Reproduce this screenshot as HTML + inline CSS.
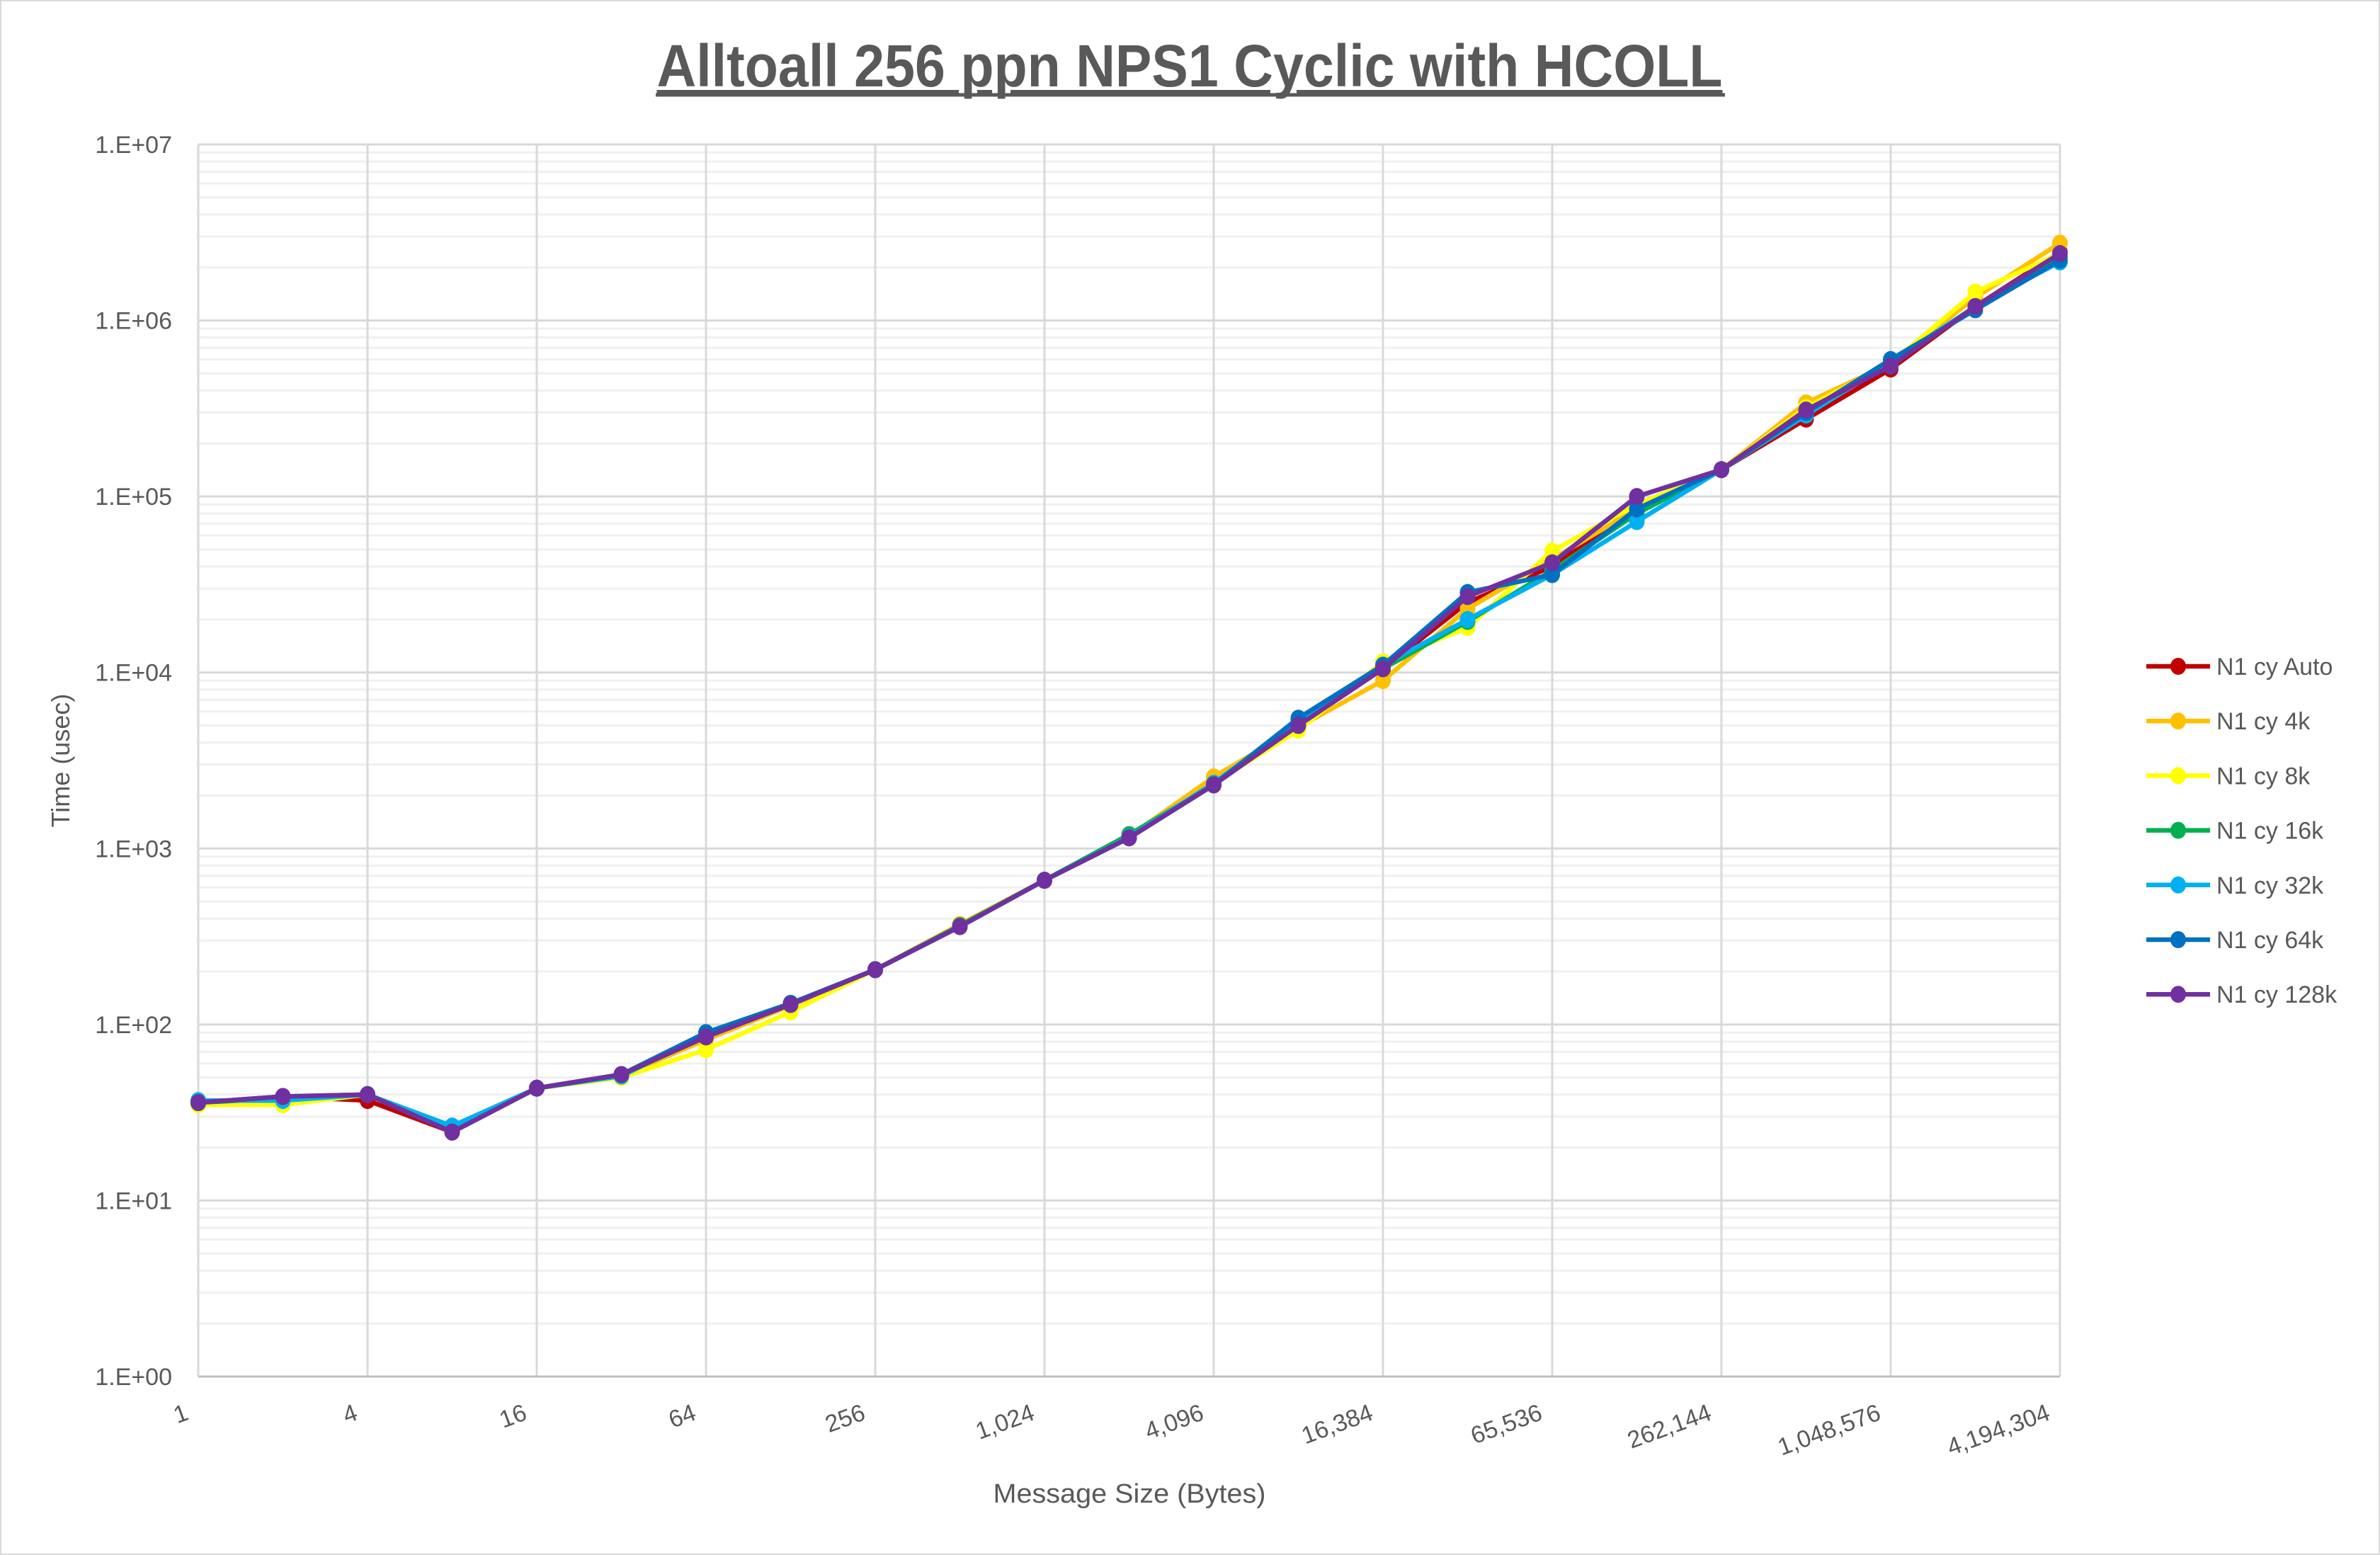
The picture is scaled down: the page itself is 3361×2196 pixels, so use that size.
<!DOCTYPE html>
<html><head><meta charset="utf-8"><style>
html,body{margin:0;padding:0;background:#fff;}
svg{display:block;font-family:"Liberation Sans",sans-serif;}
</style></head><body>
<svg id="chart" width="3361" height="2196" viewBox="0 0 3361 2196">
<rect x="1" y="1" width="3359" height="2194" fill="#fff" stroke="#d9d9d9" stroke-width="2"/>
<text x="1680" y="122" text-anchor="middle" font-size="84" font-weight="bold" fill="#595959" text-decoration="underline" textLength="1505" lengthAdjust="spacingAndGlyphs">Alltoall 256 ppn NPS1 Cyclic with HCOLL</text>
<line x1="926" y1="134" x2="2436" y2="134" stroke="#595959" stroke-width="5"/>
<g id="grid"></g>
<g id="axes"></g>
<g id="series"></g>
<text transform="translate(98,1074) rotate(-90)" text-anchor="middle" font-size="36" fill="#595959">Time (usec)</text>
<text x="1595" y="2122" text-anchor="middle" font-size="38" fill="#595959" textLength="385" lengthAdjust="spacingAndGlyphs">Message Size (Bytes)</text>
<g id="legend"></g>
</svg>
<script>
const categories=[1,2,4,8,16,32,64,128,256,512,1024,2048,4096,8192,16384,32768,65536,131072,262144,524288,1048576,2097152,4194304];
const xTickLabels=["1","4","16","64","256","1,024","4,096","16,384","65,536","262,144","1,048,576","4,194,304"];
const yTickLabels=["1.E+00","1.E+01","1.E+02","1.E+03","1.E+04","1.E+05","1.E+06","1.E+07"];
const seriesNames=["N1 cy Auto","N1 cy 4k","N1 cy 8k","N1 cy 16k","N1 cy 32k","N1 cy 64k","N1 cy 128k"];
const seriesColors=["#C00000","#FFC000","#FFFF00","#00B050","#00B0F0","#0070C0","#7030A0"];
const sAuto=[36,39,37,24.5,43.5,52,85,130,205,365,660,1150,2300,5000,10500,25000,40000,88000,142000,275000,530000,1200000,2450000];
const s4k=[36,38,40,24.5,43.5,51,82,128,205,370,660,1170,2550,4900,9000,23000,44000,85000,142000,340000,570000,1350000,2750000];
const s8k=[35,35,40,25,43.5,50,72,118,205,365,660,1160,2350,4700,11500,18000,49000,90000,142000,320000,570000,1450000,2400000];
const s16k=[36,38,40,25,43.5,51,88,130,205,365,660,1200,2300,5300,10500,19500,38000,80000,142000,300000,570000,1200000,2300000];
const s32k=[37,37,40,26.5,43.5,51,88,130,205,360,660,1160,2350,5300,11000,20000,36000,72000,142000,290000,580000,1200000,2150000];
const s64k=[36,39,40,24.5,43.5,52,90,132,205,360,660,1150,2300,5500,11000,28500,36000,85000,142000,300000,600000,1150000,2200000];
const s128k=[36,39,40,24.5,43.5,52,85,130,205,360,660,1150,2300,5000,10500,27000,42000,100000,142000,310000,550000,1200000,2400000];
const allSeries=[sAuto,s4k,s8k,s16k,s32k,s64k,s128k];
const NS="http://www.w3.org/2000/svg";
const L=280,R=2909,T=204,B=1944;
function xPos(v){return L+(Math.log2(v)-0)/(22)*(R-L);}
function yPos(v){return B-(Math.log10(v)-0)/7*(B-T);}
function mk(tag,attrs,parent){const e=document.createElementNS(NS,tag);for(const k in attrs)e.setAttribute(k,attrs[k]);parent.appendChild(e);return e;}
const grid=document.getElementById('grid'),axes=document.getElementById('axes'),ser=document.getElementById('series'),leg=document.getElementById('legend');
for(let d=0;d<7;d++){for(let m=2;m<=9;m++){const y=yPos(m*Math.pow(10,d));
const ln=mk('line',{x1:L,x2:R,y1:y,y2:y,stroke:'#f0f0f0','stroke-width':3},grid);

}}
yTickLabels.forEach((t,i)=>{const y=yPos(Math.pow(10,i));
const ln=mk('line',{x1:L,x2:R,y1:y,y2:y,stroke:'#d9d9d9','stroke-width':3},grid);


const tx=mk('text',{x:243,y:y+12,'text-anchor':'end','font-size':34,fill:'#595959'},axes);tx.textContent=t;

});
xTickLabels.forEach((t,i)=>{const v=Math.pow(4,i);const x=xPos(v);
const ln=mk('line',{x1:x,x2:x,y1:T,y2:B,stroke:'#d9d9d9','stroke-width':3},grid);


const tx=mk('text',{transform:`translate(${x-12},${B+60}) rotate(-20)`,'text-anchor':'end','font-size':34,fill:'#595959'},axes);tx.textContent=t;

});
const ax=mk('line',{x1:L,x2:R,y1:B,y2:B,stroke:'#bfbfbf','stroke-width':3},axes);


allSeries.forEach((s,si)=>{const g=mk('g',{},ser);


const pts=s.map((v,i)=>xPos(categories[i])+','+yPos(v)).join(' ');
const pl=mk('polyline',{points:pts,fill:'none',stroke:seriesColors[si],'stroke-width':6.5,'stroke-linejoin':'round'},g);


s.forEach((v,i)=>{const c=mk('ellipse',{cx:xPos(categories[i]),cy:yPos(v),rx:11,ry:12,fill:seriesColors[si]},g);

});});
seriesNames.forEach((n,i)=>{const y=941+i*77.2;const g=mk('g',{},leg);


mk('line',{x1:3031,x2:3121,y1:y,y2:y,stroke:seriesColors[i],'stroke-width':6.5},g);
mk('ellipse',{cx:3076,cy:y,rx:11,ry:12,fill:seriesColors[i]},g);
const tx=mk('text',{x:3130,y:y+12,'font-size':34,fill:'#595959'},g);tx.textContent=n;

});
</script>
</body></html>
